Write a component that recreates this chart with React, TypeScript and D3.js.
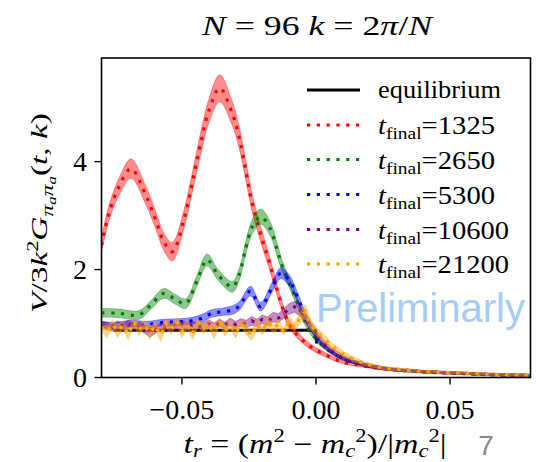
import React from "react";
import * as d3 from "d3";

const W = 542;
const H = 462;

// x ticks / y ticks
const xTicks = [-0.05, 0.0, 0.05];
const xTickLabels = ["\u22120.05", "0.00", "0.05"];
const yTicks = [0, 2, 4];
const yTickLabels = ["0", "2", "4"];

// equilibrium
const eqX = [-0.0755, -0.06, -0.04, -0.02, -0.0003, 0.0003];
const eqY = [0.875, 0.875, 0.875, 0.875, 0.875, 0.63];

// t_final = 1325 (red)
const redX = [-0.080, -0.0772, -0.0735, -0.069, -0.0635, -0.0598, -0.0567, -0.0536, -0.0493, -0.0462, -0.043, -0.0399, -0.0359, -0.0312, -0.0287, -0.0262, -0.0238, -0.020, -0.0175, -0.0155, -0.0135, -0.0101, -0.0064, -0.002, 0.0036, 0.0098, 0.017, 0.025, 0.035, 0.045, 0.055, 0.065, 0.08];
const redY = [2.45, 3.05, 3.53, 3.87, 3.38, 2.92, 2.51, 2.33, 2.92, 3.6, 4.34, 4.95, 5.36, 4.89, 4.46, 3.84, 3.23, 2.55, 2.15, 1.8, 1.45, 1.0, 0.76, 0.57, 0.42, 0.29, 0.22, 0.16, 0.12, 0.09, 0.07, 0.05, 0.035];
const redErr = [0.13, 0.14, 0.16, 0.18, 0.17, 0.16, 0.16, 0.17, 0.17, 0.18, 0.2, 0.22, 0.25, 0.22, 0.2, 0.18, 0.16, 0.14, 0.12, 0.11, 0.09, 0.07, 0.06, 0.05, 0.04, 0.03, 0.025, 0.02, 0.02, 0.02, 0.015, 0.015, 0.015];

// t_final = 2650 (green)
const greenX = [-0.080, -0.0735, -0.066, -0.0615, -0.0567, -0.0525, -0.0486, -0.0445, -0.0406, -0.0365, -0.0312, -0.0287, -0.0262, -0.0238, -0.0206, -0.017, -0.0144, -0.0125, -0.0088, -0.0063, -0.0038, -0.0007, 0.003, 0.0086, 0.016, 0.025, 0.035, 0.045, 0.055, 0.065, 0.08];
const greenY = [1.2, 1.19, 1.16, 1.35, 1.56, 1.45, 1.37, 1.78, 2.18, 1.9, 1.68, 1.9, 2.4, 2.79, 2.98, 2.75, 2.35, 2.05, 1.62, 1.31, 1.0, 0.76, 0.57, 0.385, 0.26, 0.17, 0.12, 0.095, 0.075, 0.055, 0.04];
const greenErr = [0.08, 0.08, 0.08, 0.08, 0.09, 0.09, 0.09, 0.1, 0.11, 0.1, 0.1, 0.11, 0.12, 0.13, 0.14, 0.13, 0.12, 0.1, 0.09, 0.08, 0.06, 0.05, 0.04, 0.03, 0.025, 0.02, 0.02, 0.015, 0.015, 0.015, 0.015];

// t_final = 5300 (blue)
const blueX = [-0.080, -0.075, -0.069, -0.063, -0.057, -0.051, -0.0465, -0.0425, -0.0387, -0.0345, -0.0312, -0.0287, -0.0244, -0.0207, -0.0163, -0.0132, -0.0101, -0.0070, -0.0045, -0.0020, 0.0011, 0.0049, 0.0099, 0.017, 0.025, 0.035, 0.045, 0.055, 0.065, 0.08];
const blueY = [0.98, 0.96, 1.0, 0.98, 1.02, 1.03, 1.05, 1.1, 1.19, 1.22, 1.25, 1.32, 1.6, 1.31, 1.68, 1.93, 1.81, 1.5, 1.19, 0.94, 0.69, 0.51, 0.355, 0.25, 0.18, 0.13, 0.1, 0.075, 0.055, 0.04];
const blueErr = [0.06, 0.06, 0.06, 0.06, 0.06, 0.06, 0.06, 0.07, 0.07, 0.07, 0.08, 0.08, 0.09, 0.08, 0.09, 0.1, 0.1, 0.09, 0.08, 0.06, 0.05, 0.04, 0.03, 0.025, 0.02, 0.02, 0.015, 0.015, 0.015, 0.015];

// shared x grid for the noisy long runs
const noisyX = [
  -0.080, -0.078, -0.076, -0.074, -0.072, -0.070, -0.068, -0.066, -0.064, -0.062,
  -0.060, -0.058, -0.056, -0.054, -0.052, -0.050, -0.048, -0.046, -0.044, -0.042,
  -0.040, -0.038, -0.036, -0.034, -0.032, -0.030, -0.028, -0.026, -0.024, -0.022,
  -0.020, -0.018, -0.016, -0.014, -0.012, -0.010, -0.008, -0.006, -0.004, -0.002,
  0.000, 0.003, 0.006, 0.010, 0.014, 0.018, 0.022, 0.026, 0.030, 0.035,
  0.040, 0.045, 0.050, 0.055, 0.060, 0.065, 0.070, 0.075, 0.080,
];

// t_final = 10600 (purple)
const purpleY = [
  0.98, 0.95, 0.92, 0.97, 0.94, 0.99, 0.93, 0.96, 0.90, 0.84,
  0.88, 0.95, 0.91, 0.97, 0.93, 0.99, 0.94, 0.98, 0.93, 0.96,
  1.00, 0.95, 1.01, 0.97, 1.03, 0.98, 1.02, 0.99, 1.05, 1.01,
  1.08, 1.04, 1.12, 1.10, 1.19, 1.27, 1.31, 1.24, 1.10, 0.95,
  0.82, 0.63, 0.50, 0.38, 0.30, 0.23, 0.19, 0.16, 0.14, 0.125,
  0.11, 0.10, 0.09, 0.08, 0.07, 0.06, 0.052, 0.045, 0.04,
];
const purpleErr = [
  0.06, 0.07, 0.06, 0.08, 0.06, 0.07, 0.06, 0.07, 0.08, 0.09,
  0.07, 0.06, 0.07, 0.06, 0.07, 0.06, 0.07, 0.06, 0.07, 0.06,
  0.07, 0.06, 0.07, 0.06, 0.07, 0.06, 0.07, 0.07, 0.08, 0.07,
  0.08, 0.08, 0.09, 0.08, 0.09, 0.1, 0.1, 0.1, 0.09, 0.08,
  0.07, 0.06, 0.05, 0.04, 0.035, 0.03, 0.03, 0.025, 0.025, 0.02,
  0.02, 0.02, 0.02, 0.02, 0.02, 0.02, 0.02, 0.02, 0.02,
];

// t_final = 21200 (orange)
const orangeY = [
  0.94, 0.84, 0.99, 0.86, 0.97, 0.80, 1.03, 0.88, 0.98, 0.83,
  0.96, 0.78, 1.00, 0.89, 1.05, 0.86, 0.97, 0.81, 1.01, 0.90,
  0.98, 0.84, 1.04, 0.87, 0.97, 0.82, 1.00, 0.90, 0.77, 0.98,
  0.86, 1.03, 0.90, 0.99, 0.85, 1.04, 0.93, 1.10, 1.22, 0.98,
  0.86, 0.72, 0.58, 0.44, 0.34, 0.26, 0.21, 0.17, 0.15, 0.13,
  0.115, 0.10, 0.09, 0.08, 0.07, 0.06, 0.052, 0.045, 0.04,
];
const orangeErr = [
  0.07, 0.11, 0.06, 0.12, 0.07, 0.1, 0.06, 0.1, 0.07, 0.12,
  0.06, 0.11, 0.07, 0.09, 0.06, 0.12, 0.07, 0.1, 0.06, 0.09,
  0.07, 0.12, 0.06, 0.1, 0.07, 0.09, 0.06, 0.11, 0.08, 0.09,
  0.06, 0.1, 0.07, 0.09, 0.06, 0.1, 0.07, 0.11, 0.13, 0.09,
  0.08, 0.07, 0.06, 0.05, 0.04, 0.035, 0.03, 0.03, 0.025, 0.025,
  0.02, 0.02, 0.02, 0.02, 0.02, 0.02, 0.02, 0.02, 0.02,
];

const seriesNames = ["1325", "2650", "5300", "10600", "21200"];
const seriesColors = ["#ff0000", "#008000", "#0000ff", "#800080", "#ffa500"];
const seriesXs = [redX, greenX, blueX, noisyX, noisyX];
const seriesYs = [redY, greenY, blueY, purpleY, orangeY];
const seriesErrs = [redErr, greenErr, blueErr, purpleErr, orangeErr];
const seriesSmooth = [true, true, true, false, false];
const legendTextLen = [117, 117, 117, 131, 131];

const SERIF = "'Liberation Serif', 'Times New Roman', serif";

const x = d3.scaleLinear().domain([-0.08, 0.08]).range([101.5, 530.5]);
const y = d3.scaleLinear().domain([0, 5.92]).range([377.5, 58]);

export default function App() {
  const [L, R] = x.range();
  const [B, T] = y.range();

  const eqLine = d3
    .line<number>()
    .x((_, i) => x(eqX[i]))
    .y((d) => y(d))(eqY) as string;

  const series = seriesNames.map((name, s) => {
    const xs = seriesXs[s];
    const ys = seriesYs[s];
    const es = seriesErrs[s];
    const curve = seriesSmooth[s] ? d3.curveCatmullRom.alpha(0.5) : d3.curveLinear;
    const idx = d3.range(ys.length);
    const area = d3
      .area<number>()
      .x((i) => x(xs[i]))
      .y0((i) => y(ys[i] - es[i]))
      .y1((i) => y(ys[i] + es[i]))
      .curve(curve)(idx) as string;
    const line = d3
      .line<number>()
      .x((i) => x(xs[i]))
      .y((i) => y(ys[i]))
      .curve(curve)(idx) as string;
    return { name, color: seriesColors[s], area, line };
  });

  const legendRows = [90, 125, 159.5, 194.5, 229.5, 264];

  return (
    <svg
      width={W}
      height={H}
      style={{ position: "absolute", left: 0, top: 0, background: "#fff" }}
      fontFamily={SERIF}
    >
      <rect x={0} y={0} width={W} height={H} fill="#fff" />
      <defs>
        <clipPath id="plotclip">
          <rect x={L} y={T} width={R - L} height={B - T} />
        </clipPath>
      </defs>

      {/* title */}
      <text x={317} y={34.5} fontSize={28} textAnchor="middle" textLength={230} lengthAdjust="spacingAndGlyphs">
        <tspan fontStyle="italic">N</tspan>
        <tspan> = 96 </tspan>
        <tspan fontStyle="italic">k</tspan>
        <tspan> = 2</tspan>
        <tspan fontStyle="italic">π</tspan>
        <tspan>/</tspan>
        <tspan fontStyle="italic">N</tspan>
      </text>

      <g clipPath="url(#plotclip)">
        <path d={eqLine} fill="none" stroke="#000" strokeWidth={3} />
        {series.map((s) => (
          <g key={s.name}>
            <path d={s.area} fill={s.color} fillOpacity={0.45} stroke={s.color} strokeOpacity={0.35} strokeWidth={1} />
            <path d={s.line} fill="none" stroke={s.color} strokeWidth={3.2} strokeDasharray="3.2 6.6" />
          </g>
        ))}
      </g>

      {/* frame */}
      <rect x={L} y={T} width={R - L} height={B - T} fill="none" stroke="#000" strokeWidth={1.6} />

      {/* x ticks */}
      {xTicks.map((t, i) => (
        <g key={"xt" + i}>
          <line x1={x(t)} x2={x(t)} y1={B} y2={B + 7} stroke="#000" strokeWidth={1.4} />
          <text x={x(t)} y={418.5} fontSize={28} textAnchor="middle">
            {xTickLabels[i]}
          </text>
        </g>
      ))}
      {/* y ticks */}
      {yTicks.map((t, i) => (
        <g key={"yt" + i}>
          <line x1={L - 7} x2={L} y1={y(t)} y2={y(t)} stroke="#000" strokeWidth={1.4} />
          <text x={87} y={y(t) + 9.5} fontSize={28} textAnchor="end">
            {yTickLabels[i]}
          </text>
        </g>
      ))}

      {/* y label */}
      <text
        transform={`translate(47,213) rotate(-90)`}
        fontSize={24}
        textAnchor="middle"
        textLength={200}
        lengthAdjust="spacingAndGlyphs"
      >
        <tspan fontStyle="italic">V</tspan>
        <tspan>/3</tspan>
        <tspan fontStyle="italic">k</tspan>
        <tspan fontSize={16} dy={-9}>2</tspan>
        <tspan fontStyle="italic" dy={9}>G</tspan>
        <tspan fontStyle="italic" fontSize={17} dy={6}>π</tspan>
        <tspan fontStyle="italic" fontSize={12} dy={3}>a</tspan>
        <tspan fontStyle="italic" fontSize={17} dy={-3}>π</tspan>
        <tspan fontStyle="italic" fontSize={12} dy={3}>a</tspan>
        <tspan dy={-9}>(</tspan>
        <tspan fontStyle="italic">t</tspan>
        <tspan>, </tspan>
        <tspan fontStyle="italic">k</tspan>
        <tspan>)</tspan>
      </text>

      {/* x label */}
      <text x={315} y={453} fontSize={27} textAnchor="middle" textLength={263} lengthAdjust="spacingAndGlyphs">
        <tspan fontStyle="italic">t</tspan>
        <tspan fontStyle="italic" fontSize={18} dy={4}>r</tspan>
        <tspan dy={-4}> = (</tspan>
        <tspan fontStyle="italic">m</tspan>
        <tspan fontSize={18} dy={-11}>2</tspan>
        <tspan dy={11}> − </tspan>
        <tspan fontStyle="italic">m</tspan>
        <tspan fontStyle="italic" fontSize={18} dy={4}>c</tspan>
        <tspan fontSize={18} dy={-15}>2</tspan>
        <tspan dy={11}>)/|</tspan>
        <tspan fontStyle="italic">m</tspan>
        <tspan fontStyle="italic" fontSize={18} dy={4}>c</tspan>
        <tspan fontSize={18} dy={-15}>2</tspan>
        <tspan dy={11}>|</tspan>
      </text>
      <text x={486} y={455} fontSize={28} textAnchor="middle" fill="#8a8a8a" fontFamily="'Liberation Sans', Arial, sans-serif">
        7
      </text>

      {/* legend */}
      <line x1={307} x2={360} y1={legendRows[0]} y2={legendRows[0]} stroke="#000" strokeWidth={3} />
      <text x={378} y={legendRows[0] + 8} fontSize={25} textLength={123} lengthAdjust="spacingAndGlyphs">
        equilibrium
      </text>
      {series.map((s, i) => {
        const ry = legendRows[i + 1];
        return (
          <g key={"lg" + s.name}>
            <line x1={307} x2={360} y1={ry} y2={ry} stroke={s.color} strokeWidth={3.2} strokeDasharray="3.2 6.6" />
            <text x={378} y={ry + 9} fontSize={25} textLength={legendTextLen[i]} lengthAdjust="spacingAndGlyphs">
              <tspan fontStyle="italic">t</tspan>
              <tspan fontSize={17} dy={5}>final</tspan>
              <tspan dy={-5}>={s.name}</tspan>
            </text>
          </g>
        );
      })}

      {/* watermark */}
      <text x={316} y={322} fontSize={40} fill="#a6cdf7" fontFamily="'Liberation Sans', Arial, sans-serif">
        Preliminarly
      </text>
    </svg>
  );
}
